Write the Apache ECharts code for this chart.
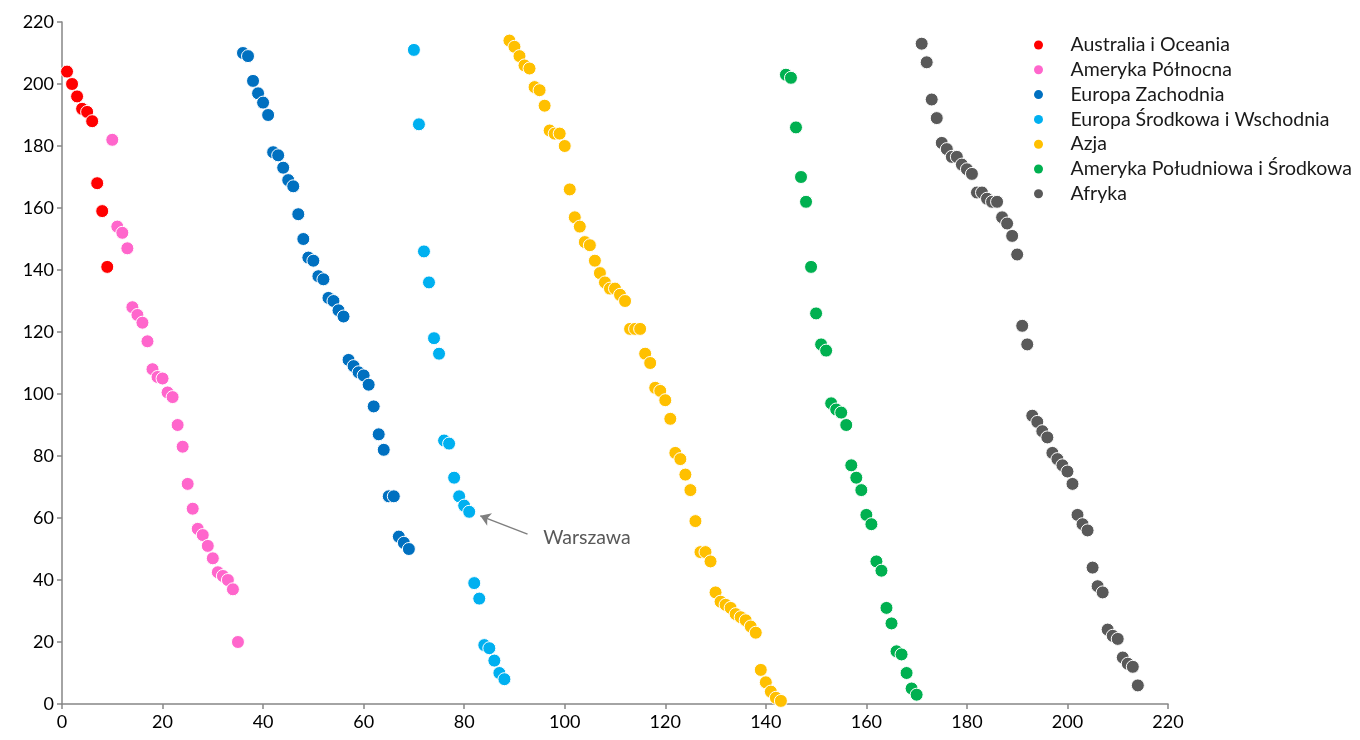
<!DOCTYPE html>
<html>
<head>
<meta charset="utf-8">
<script src="https://cdn.jsdelivr.net/npm/echarts@6/dist/echarts.min.js"></script>
<style>html,body{margin:0;padding:0;background:#fff}#c{width:1360px;height:740px}</style>
</head>
<body>
<div id="c"></div>
<script>
const seriesNames = ['Australia i Oceania','Ameryka Północna','Europa Zachodnia','Europa Środkowa i Wschodnia','Azja','Ameryka Południowa i Środkowa','Afryka'];
const seriesColors = ['#FF0000','#FF66CC','#0070C0','#00B0F0','#FFC000','#00B050','#595959'];
const xTicks = [0,20,40,60,80,100,120,140,160,180,200,220];
const yTicks = [0,20,40,60,80,100,120,140,160,180,200,220];

const australia = [[1,204],[2,200],[3,196],[4,192],[5,191],[6,188],[7,168],[8,159],[9,141]];
const amerykaPn = [[10,182],[11,154],[12,152],[13,147],[14,128],[15,125.5],[16,123],[17,117],[18,108],[19,105.5],[20,105],[21,100.5],[22,99],[23,90],[24,83],[25,71],[26,63],[27,56.5],[28,54.5],[29,51],[30,47],[31,42.5],[32,41.3],[33,40],[34,37],[35,20]];
const europaZach = [[36,210],[37,209],[38,201],[39,197],[40,194],[41,190],[42,178],[43,177],[44,173],[45,169],[46,167],[47,158],[48,150],[49,144],[50,143],[51,138],[52,137],[53,131],[54,130],[55,127],[56,125],[57,111],[58,109],[59,107],[60,106],[61,103],[62,96],[63,87],[64,82],[65,67],[66,67],[67,54],[68,52],[69,50]];
const europaSrW = [[70,211],[71,187],[72,146],[73,136],[74,118],[75,113],[76,85],[77,84],[78,73],[79,67],[80,64],[81,62],[82,39],[83,34],[84,19],[85,18],[86,14],[87,10],[88,8]];
const azja = [[89,214],[90,212],[91,209],[92,206],[93,205],[94,199],[95,198],[96,193],[97,185],[98,184],[99,184],[100,180],[101,166],[102,157],[103,154],[104,149],[105,148],[106,143],[107,139],[108,136],[109,134],[110,134],[111,132],[112,130],[113,121],[114,121],[115,121],[116,113],[117,110],[118,102],[119,101],[120,98],[121,92],[122,81],[123,79],[124,74],[125,69],[126,59],[127,49],[128,49],[129,46],[130,36],[131,33],[132,32],[133,31],[134,29],[135,28],[136,27],[137,25],[138,23],[139,11],[140,7],[141,4],[142,2],[143,1]];
const amerykaPd = [[144,203],[145,202],[146,186],[147,170],[148,162],[149,141],[150,126],[151,116],[152,114],[153,97],[154,95],[155,94],[156,90],[157,77],[158,73],[159,69],[160,61],[161,58],[162,46],[163,43],[164,31],[165,26],[166,17],[167,16],[168,10],[169,5],[170,3]];
const afryka = [[171,213],[172,207],[173,195],[174,189],[175,181],[176,179],[177,176.5],[178,176.5],[179,174],[180,172.5],[181,171],[182,165],[183,165],[184,163],[185,162],[186,162],[187,157],[188,155],[189,151],[190,145],[191,122],[192,116],[193,93],[194,91],[195,88],[196,86],[197,81],[198,79],[199,77],[200,75],[201,71],[202,61],[203,58],[204,56],[205,44],[206,38],[207,36],[208,24],[209,22],[210,21],[211,15],[212,13],[213,12],[214,6]];

const annotationText = 'Warszawa';
const arrowFrom = [92.6, 54.8];
const arrowTo = [83.2, 60.7];
const labelAt = [95.7, 53.5];

const allData = [australia, amerykaPn, europaZach, europaSrW, azja, amerykaPd, afryka];
const FONT = 'Lato, "Open Sans", sans-serif';

const series = allData.map((d, i) => {
  const s = {
    name: seriesNames[i],
    type: 'scatter',
    data: d,
    symbol: 'circle',
    symbolSize: 13,
    itemStyle: { color: seriesColors[i], borderColor: '#ffffff', borderWidth: 1, opacity: 1 },
    emphasis: { disabled: true },
    animation: false
  };
  if (i === 3) {
    s.markLine = {
      silent: true,
      animation: false,
      symbol: ['none', 'arrow'],
      symbolSize: 10,
      lineStyle: { color: '#7F7F7F', width: 1.5, type: 'solid' },
      itemStyle: { color: '#7F7F7F' },
      label: { show: false },
      data: [[{ coord: arrowFrom, symbol: 'none' }, { coord: arrowTo, symbol: 'arrow', symbolSize: 10 }]]
    };
    s.markPoint = {
      silent: true,
      animation: false,
      symbol: 'circle',
      symbolSize: 0.1,
      itemStyle: { color: 'rgba(0,0,0,0)' },
      label: { show: true, position: 'right', distance: 0, formatter: annotationText, color: '#595959', fontSize: 19.5, fontFamily: FONT },
      data: [{ coord: labelAt }]
    };
  }
  return s;
});

const chart = echarts.init(document.getElementById('c'), null, { renderer: 'canvas' });
chart.setOption({
  backgroundColor: '#ffffff',
  animation: false,
  grid: { left: 62, right: 192, top: 22, bottom: 36, containLabel: false },
  legend: {
    orient: 'vertical',
    left: 1029,
    top: 30,
    itemWidth: 54,
    itemHeight: 9,
    itemGap: 4.8,
    icon: 'circle',
    itemStyle: { borderWidth: 0 },
    textStyle: { fontSize: 19.5, fontFamily: FONT, color: '#1a1a1a', lineHeight: 20 },
    data: seriesNames
  },
  xAxis: {
    type: 'value',
    min: xTicks[0],
    max: xTicks[xTicks.length - 1],
    interval: xTicks[1] - xTicks[0],
    splitLine: { show: false },
    axisLine: { show: true, onZero: false, lineStyle: { color: '#868686', width: 1.5 } },
    axisTick: { show: true, length: 5, lineStyle: { color: '#868686', width: 1.5 } },
    axisLabel: { fontSize: 18, fontFamily: FONT, color: '#000', margin: 9 }
  },
  yAxis: {
    type: 'value',
    min: yTicks[0],
    max: yTicks[yTicks.length - 1],
    interval: yTicks[1] - yTicks[0],
    splitLine: { show: false },
    axisLine: { show: true, onZero: false, lineStyle: { color: '#868686', width: 1.5 } },
    axisTick: { show: true, length: 5, lineStyle: { color: '#868686', width: 1.5 } },
    axisLabel: { fontSize: 18, fontFamily: FONT, color: '#000', margin: 8 }
  },
  series: series
});
</script>
</body>
</html>
